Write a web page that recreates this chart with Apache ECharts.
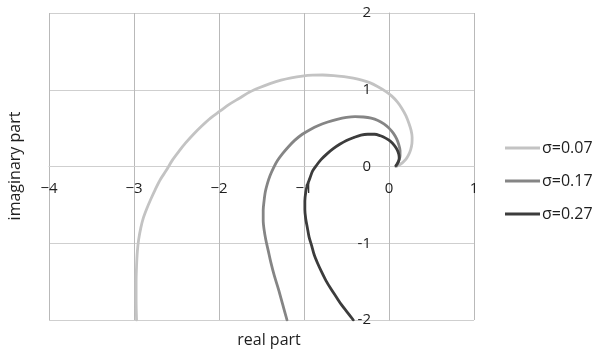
<!DOCTYPE html>
<html>
<head>
<meta charset="utf-8">
<style>
  html, body { margin: 0; padding: 0; background: #fff; }
  #chart { width: 598px; height: 351px; }
</style>
<script src="https://cdn.jsdelivr.net/npm/echarts@6/dist/echarts.min.js"></script>
</head>
<body>
<div id="chart"></div>
<script>
// Locus points [real, imaginary] for each damping value
const seriesNames = ['σ=0.07', 'σ=0.17', 'σ=0.27'];

const locus007 = [
  [-2.97, -2.0], [-2.975, -1.75], [-2.975, -1.5], [-2.97, -1.3], [-2.96, -1.1],
  [-2.945, -0.95], [-2.92, -0.8], [-2.89, -0.67], [-2.85, -0.55], [-2.8, -0.42],
  [-2.75, -0.3], [-2.69, -0.17], [-2.62, -0.05], [-2.55, 0.08], [-2.47, 0.2],
  [-2.39, 0.31], [-2.3, 0.42], [-2.2, 0.53], [-2.1, 0.63], [-1.99, 0.72],
  [-1.88, 0.81], [-1.76, 0.89], [-1.64, 0.97], [-1.52, 1.03], [-1.4, 1.08],
  [-1.27, 1.125], [-1.15, 1.155], [-1.02, 1.178], [-0.9, 1.19], [-0.78, 1.192],
  [-0.65, 1.185], [-0.53, 1.17], [-0.42, 1.15], [-0.32, 1.125], [-0.22, 1.09],
  [-0.13, 1.04], [-0.04, 0.98], [0.03, 0.92], [0.1, 0.84], [0.15, 0.76],
  [0.2, 0.66], [0.235, 0.56], [0.26, 0.47], [0.272, 0.38], [0.27, 0.3],
  [0.255, 0.22], [0.23, 0.15], [0.2, 0.095], [0.16, 0.05], [0.12, 0.02],
  [0.08, 0.0]
];

const locus017 = [
  [-1.2, -2.0], [-1.25, -1.8], [-1.3, -1.6], [-1.35, -1.42], [-1.39, -1.25],
  [-1.42, -1.1], [-1.45, -0.95], [-1.47, -0.82], [-1.48, -0.7], [-1.48, -0.57],
  [-1.47, -0.45], [-1.455, -0.33], [-1.43, -0.22], [-1.4, -0.12], [-1.36, -0.02],
  [-1.31, 0.08], [-1.25, 0.17], [-1.18, 0.26], [-1.11, 0.34], [-1.02, 0.42],
  [-0.93, 0.48], [-0.83, 0.535], [-0.72, 0.58], [-0.61, 0.615], [-0.5, 0.64],
  [-0.4, 0.65], [-0.3, 0.645], [-0.21, 0.63], [-0.13, 0.6], [-0.06, 0.555],
  [0.0, 0.5], [0.05, 0.435], [0.09, 0.36], [0.115, 0.285], [0.13, 0.21],
  [0.13, 0.14], [0.12, 0.09], [0.1, 0.04], [0.09, 0.01]
];

const locus027 = [
  [-0.42, -2.0], [-0.49, -1.9], [-0.56, -1.8], [-0.62, -1.7], [-0.68, -1.6],
  [-0.74, -1.49], [-0.79, -1.38], [-0.84, -1.26], [-0.88, -1.15], [-0.91, -1.03],
  [-0.94, -0.92], [-0.96, -0.8], [-0.98, -0.68], [-0.99, -0.56], [-0.99, -0.45],
  [-0.98, -0.34], [-0.96, -0.24], [-0.93, -0.15], [-0.9, -0.06], [-0.85, 0.02],
  [-0.8, 0.09], [-0.73, 0.165], [-0.66, 0.23], [-0.58, 0.29], [-0.5, 0.34],
  [-0.41, 0.38], [-0.33, 0.41], [-0.25, 0.42], [-0.17, 0.42], [-0.1, 0.4],
  [-0.04, 0.37], [0.015, 0.33], [0.06, 0.28], [0.095, 0.22], [0.115, 0.16],
  [0.12, 0.11], [0.11, 0.06], [0.08, 0.01]
];

const xRange = [-4, 1];
const yRange = [-2, 2];

const lineColors = ['#c3c3c3', '#858585', '#3c3c3c'];
const FONT = 'Open Sans';
const W = 598, H = 351;
const gridBox = { left: 49, right: 124, top: 13, bottom: 31 };

// Axes cross at the origin: shift each axis from the grid edge to the zero line
const gridW = W - gridBox.left - gridBox.right;
const gridH = H - gridBox.top - gridBox.bottom;
const xAxisShift = -gridH * (0 - yRange[0]) / (yRange[1] - yRange[0]);
const yAxisShift = -gridW * (0 - xRange[0]) / (xRange[1] - xRange[0]);

const chart = echarts.init(document.getElementById('chart'), null, { renderer: 'canvas' });

function locusSeries(name, data, color) {
  return {
    name: name,
    type: 'line',
    data: data,
    smooth: 0.3,
    symbol: 'none',
    lineStyle: { color: color, width: 2.8, cap: 'round', join: 'round' },
    itemStyle: { color: color }
  };
}

chart.setOption({
  animation: false,
  backgroundColor: '#ffffff',
  grid: Object.assign({ containLabel: false }, gridBox),
  xAxis: {
    type: 'value',
    min: xRange[0], max: xRange[1], interval: 1,
    position: 'bottom',
    offset: xAxisShift,
    axisLine: { show: true, onZero: false, lineStyle: { color: '#cfcfcf', width: 1 } },
    axisTick: { show: false },
    splitLine: { show: true, lineStyle: { color: '#b9b9b9', width: 1 } },
    axisLabel: {
      margin: 15,
      showMinLabel: true, showMaxLabel: true,
      color: '#1e1e1e', fontFamily: FONT, fontSize: 15,
      formatter: v => (v < 0 ? '\u2212' + Math.abs(v) : String(v))
    }
  },
  yAxis: {
    type: 'value',
    min: yRange[0], max: yRange[1], interval: 1,
    position: 'left',
    offset: yAxisShift,
    axisLine: { show: true, onZero: false, lineStyle: { color: '#b9b9b9', width: 1 } },
    axisTick: { show: false },
    splitLine: { show: true, lineStyle: { color: '#cfcfcf', width: 1 } },
    axisLabel: {
      margin: 18,
      showMinLabel: true, showMaxLabel: true,
      color: '#1e1e1e', fontFamily: FONT, fontSize: 15,
      formatter: v => String(v)
    }
  },
  legend: {
    orient: 'vertical',
    left: 505, top: 140,
    padding: 0,
    icon: 'rect',
    itemWidth: 35, itemHeight: 3, itemGap: 17,
    textStyle: { color: '#1e1e1e', fontFamily: FONT, fontSize: 16, padding: [0, 0, 0, -3], lineHeight: 16 },
    data: seriesNames
  },
  graphic: [
    {
      type: 'text', x: 269, y: 340,
      style: { text: 'real part', fill: '#1e1e1e', font: '16px "' + FONT + '"', align: 'center', verticalAlign: 'middle' }
    },
    {
      type: 'text', x: 15, y: 166, rotation: Math.PI / 2,
      style: { text: 'imaginary part', fill: '#1e1e1e', font: '16px "' + FONT + '"', align: 'center', verticalAlign: 'middle' }
    }
  ],
  series: [
    locusSeries(seriesNames[0], locus007, lineColors[0]),
    locusSeries(seriesNames[1], locus017, lineColors[1]),
    locusSeries(seriesNames[2], locus027, lineColors[2])
  ]
});
</script>
</body>
</html>
